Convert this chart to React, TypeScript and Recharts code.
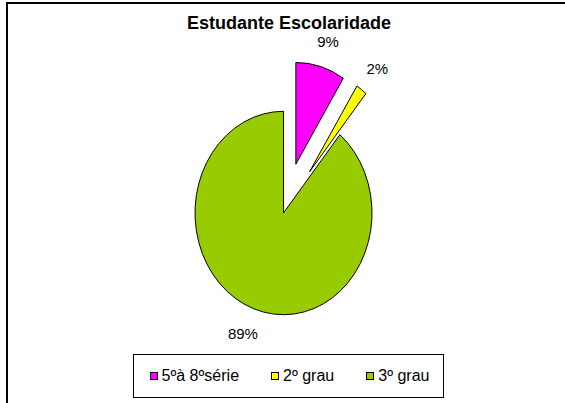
import React from "react";
import { PieChart, Pie, Cell, Legend } from "recharts";

const categories = ["5ºà 8ºsérie", "2º grau", "3º grau"];
const values = [9, 2, 89];
const colors = ["#FF00FF", "#FFFF00", "#99CC00"];
const explodedSlices = ["5ºà 8ºsérie", "2º grau"];

const data = categories.map((name, i) => ({ name, value: values[i] }));

const FONT = "Arial, 'Liberation Sans', sans-serif";
const RAD = Math.PI / 180;
// pie is drawn as an ellipse: horizontal radius is a fraction of vertical one
const K = 88.5 / 101.7;
const EXPLODE = 0.5;

const pt = (cx: number, cy: number, rx: number, ry: number, angle: number) => ({
  x: cx + rx * Math.cos(-angle * RAD),
  y: cy + ry * Math.sin(-angle * RAD),
});

const EllipseSector = (props: any) => {
  const { cx, cy, outerRadius, startAngle, endAngle, midAngle, fill } = props;
  const name = props.name ?? props.payload?.name;
  const ry = outerRadius;
  const rx = outerRadius * K;
  const e = explodedSlices.includes(name) ? EXPLODE : 0;
  const o = pt(cx, cy, rx * e, ry * e, midAngle);
  const s = pt(o.x, o.y, rx, ry, startAngle);
  const t = pt(o.x, o.y, rx, ry, endAngle);
  const large = Math.abs(startAngle - endAngle) > 180 ? 1 : 0;
  const d = `M${o.x},${o.y} L${s.x},${s.y} A${rx},${ry} 0 ${large} 1 ${t.x},${t.y} Z`;
  return <path d={d} fill={fill} stroke="#000" strokeWidth={1} />;
};

const renderLabel = (props: any) => {
  const { cx, cy, outerRadius, midAngle, value } = props;
  const name = props.name ?? props.payload?.name;
  const e = explodedSlices.includes(name) ? EXPLODE : 0;
  const f = 1 + e + 0.2;
  const p = pt(cx, cy, outerRadius * K * f, outerRadius * f, midAngle);
  const text = `${value}%`;
  const w = text.length * 9;
  const h = 12;
  const x = p.x + (w / 2) * Math.cos(midAngle * RAD);
  const y = p.y - (h / 2) * Math.sin(midAngle * RAD);
  return (
    <text
      x={x}
      y={y}
      textAnchor="middle"
      dominantBaseline="central"
      fontFamily={FONT}
      fontSize={15}
      fill="#000"
    >
      {text}
    </text>
  );
};

const LegendBox = () => (
  <div
    style={{
      boxSizing: "border-box",
      width: 311,
      height: 44,
      border: "1px solid #000",
      display: "flex",
      alignItems: "center",
      justifyContent: "center",
      gap: 32,
      paddingLeft: 2,
      fontFamily: FONT,
      fontSize: 16,
      color: "#000",
      background: "#fff",
    }}
  >
    {categories.map((c, i) => (
      <div key={c} style={{ display: "flex", alignItems: "center" }}>
        <span
          style={{
            display: "inline-block",
            boxSizing: "border-box",
            width: 8,
            height: 8,
            border: "1px solid #000",
            background: colors[i],
            marginRight: 4,
          }}
        />
        <span>{c}</span>
      </div>
    ))}
  </div>
);

const App = () => (
  <div
    style={{
      position: "absolute",
      left: 0,
      top: 0,
      width: 565,
      height: 403,
      overflow: "hidden",
      background: "#fff",
    }}
  >
    <div
      style={{
        position: "absolute",
        left: 6,
        top: 2,
        width: 700,
        height: 600,
        border: "2px solid #000",
      }}
    />
    <div
      style={{
        position: "absolute",
        left: 0,
        top: 13,
        width: 578,
        textAlign: "center",
        fontFamily: FONT,
        fontWeight: "bold",
        fontSize: 18,
        lineHeight: "20px",
        color: "#000",
      }}
    >
      Estudante Escolaridade
    </div>
    <div style={{ position: "absolute", left: 0, top: 0 }}>
      <PieChart width={565} height={403} margin={{ top: 0, right: 0, bottom: 0, left: 0 }}>
        <Pie
          data={data}
          dataKey="value"
          nameKey="name"
          cx={283.5}
          cy={213}
          outerRadius={101.7}
          startAngle={90}
          endAngle={-270}
          stroke="#000"
          labelLine={false}
          label={renderLabel}
          shape={EllipseSector}
          activeShape={EllipseSector}
          inactiveShape={EllipseSector}
          isAnimationActive={false}
        >
          {data.map((d, i) => (
            <Cell key={d.name} fill={colors[i]} />
          ))}
        </Pie>
        <Legend
          content={LegendBox}
          wrapperStyle={{ left: 133, top: 354, width: 311, height: 44 }}
        />
      </PieChart>
    </div>
  </div>
);

export default App;
